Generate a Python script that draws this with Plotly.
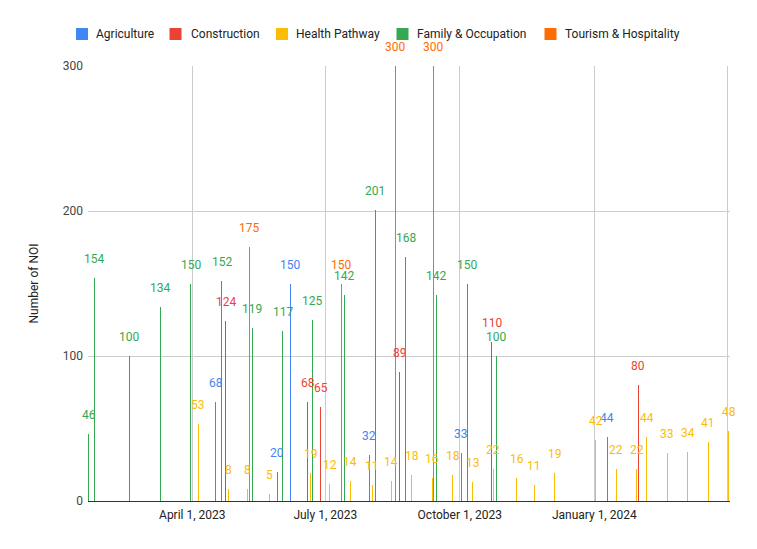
import plotly.graph_objects as go
import pandas as pd

# ---------------- data ----------------
series_names = ["Agriculture", "Construction", "Health Pathway",
                "Family & Occupation", "Tourism & Hospitality"]
series_colors = ["#4285f4", "#ea4335", "#fbbc04", "#34a853", "#ff6d01"]

agri_dates = ["2023-04-17", "2023-05-29", "2023-06-07", "2023-07-31",
              "2023-10-02", "2024-01-10"]
agri_vals = [68, 20, 150, 32, 33, 44]

cons_dates = ["2023-04-24", "2023-06-19", "2023-06-28", "2023-08-21",
              "2023-10-23", "2024-01-31"]
cons_vals = [124, 68, 65, 89, 110, 80]

health_dates = ["2023-04-05", "2023-04-26", "2023-05-09", "2023-05-24",
                "2023-06-21", "2023-07-04", "2023-07-18", "2023-08-02",
                "2023-08-15", "2023-08-29", "2023-09-12", "2023-09-26",
                "2023-10-10", "2023-10-24", "2023-11-09", "2023-11-21",
                "2023-12-05", "2024-01-02", "2024-01-16", "2024-01-30",
                "2024-02-06", "2024-02-20", "2024-03-05", "2024-03-19",
                "2024-04-02"]
health_vals = [53, 8, 8, 5, 19, 12, 14, 11, 14, 18, 16, 18, 13, 22, 16, 11,
               19, 42, 22, 22, 44, 33, 34, 41, 48]

family_dates = ["2023-01-20", "2023-01-24", "2023-02-17", "2023-03-10",
                "2023-03-31", "2023-04-21", "2023-05-12", "2023-06-02",
                "2023-06-22", "2023-07-14", "2023-08-04", "2023-08-25",
                "2023-09-15", "2023-10-06", "2023-10-26"]
family_vals = [46, 154, 100, 134, 150, 152, 119, 117, 125, 142, 201, 168,
               142, 150, 100]

tour_dates = ["2023-05-10", "2023-07-12", "2023-08-18", "2023-09-13"]
tour_vals = [175, 150, 300, 300]

tick_vals = ["2023-04-01", "2023-07-01", "2023-10-01", "2024-01-01", "2024-04-01"]
tick_text = ["April 1, 2023", "July 1, 2023", "October 1, 2023", "January 1, 2024", ""]
y_ticks = [0, 100, 200, 300]

series = [
    (agri_dates, agri_vals),
    (cons_dates, cons_vals),
    (health_dates, health_vals),
    (family_dates, family_vals),
    (tour_dates, tour_vals),
]

# ---------------- layout geometry ----------------
# page body has an 8px default margin, so the figure is drawn from (8, 8)
BODY = 8
W, H = 757 - BODY, 549 - BODY
PLOT_L, PLOT_R, PLOT_T, PLOT_B = 88, 730, 66, 501   # page pixels
ML = PLOT_L - BODY
MR = BODY + W - PLOT_R
MT = PLOT_T - BODY
MB = BODY + H - PLOT_B
PW = PLOT_R - PLOT_L
PH = PLOT_B - PLOT_T

anchor = pd.Timestamp("2023-04-01")
x_start = anchor - pd.Timedelta(days=71.35)
x_end = anchor + pd.Timedelta(days=367.84)
bar_w_ms = (x_end - x_start).total_seconds() * 1000.0 / PW  # one pixel wide

FONT = "Roboto, Arial, sans-serif"

def rgba(hexc, a):
    h = hexc.lstrip("#")
    return "rgba(%d,%d,%d,%s)" % (int(h[0:2], 16), int(h[2:4], 16), int(h[4:6], 16), a)

fig = go.Figure()
annotations = []
for (dates, vals), name, col in zip(series, series_names, series_colors):
    fig.add_trace(go.Bar(
        x=dates, y=vals, name=name,
        width=[bar_w_ms] * len(vals),
        marker=dict(color=rgba(col, 0.999), line=dict(width=0)),
        showlegend=False,
    ))
    for d, v in zip(dates, vals):
        annotations.append(dict(
            x=d, y=v, xref="x", yref="y", text=str(v), showarrow=False,
            yshift=19, yanchor="middle", xanchor="center",
            font=dict(family=FONT, size=12, color=col),
        ))

# custom legend (page-pixel placed) at the top
leg_sq_left = [76, 169.5, 276, 396.5, 544.5]
leg_txt_left = [94, 188.7, 294.3, 415.3, 563]
leg_y = 34
shapes = []
def px_x(p):
    return (p - PLOT_L) / PW
def px_y(p):
    return (PLOT_B - p) / PH
for name, col, sx, tx in zip(series_names, series_colors, leg_sq_left, leg_txt_left):
    shapes.append(dict(type="rect", xref="paper", yref="paper",
                       x0=px_x(sx), x1=px_x(sx + 12),
                       y0=px_y(leg_y + 6), y1=px_y(leg_y - 6),
                       fillcolor=col, line=dict(width=0)))
    annotations.append(dict(x=px_x(tx), y=px_y(leg_y), xref="paper", yref="paper",
                            text=name, showarrow=False, xanchor="left", yanchor="middle",
                            font=dict(family=FONT, size=12, color="#222222")))

fig.update_layout(
    width=W, height=H,
    margin=dict(l=ML, r=MR, t=MT, b=MB, pad=0),
    paper_bgcolor="white", plot_bgcolor="white",
    barmode="overlay", bargap=0, bargroupgap=0,
    font=dict(family=FONT, size=12, color="#222222"),
    annotations=annotations,
    shapes=shapes,
    xaxis=dict(
        type="date", range=[x_start, x_end],
        tickvals=tick_vals, ticktext=tick_text,
        showgrid=True, gridcolor="#cccccc", gridwidth=1,
        showline=True, linecolor="#333333", linewidth=1,
        ticks="", ticklabelstandoff=3,
        tickfont=dict(family=FONT, size=12, color="#222222"),
        zeroline=False,
    ),
    yaxis=dict(
        range=[0, 300], tickvals=y_ticks,
        showgrid=True, gridcolor="#cccccc", gridwidth=1,
        zeroline=False, ticks="", ticklabelstandoff=4,
        tickfont=dict(family=FONT, size=12, color="#444444"),
        title=dict(text="Number of NOI", standoff=21,
                   font=dict(family=FONT, size=12, color="#222222")),
    ),
)

fig.write_html("out.html")
